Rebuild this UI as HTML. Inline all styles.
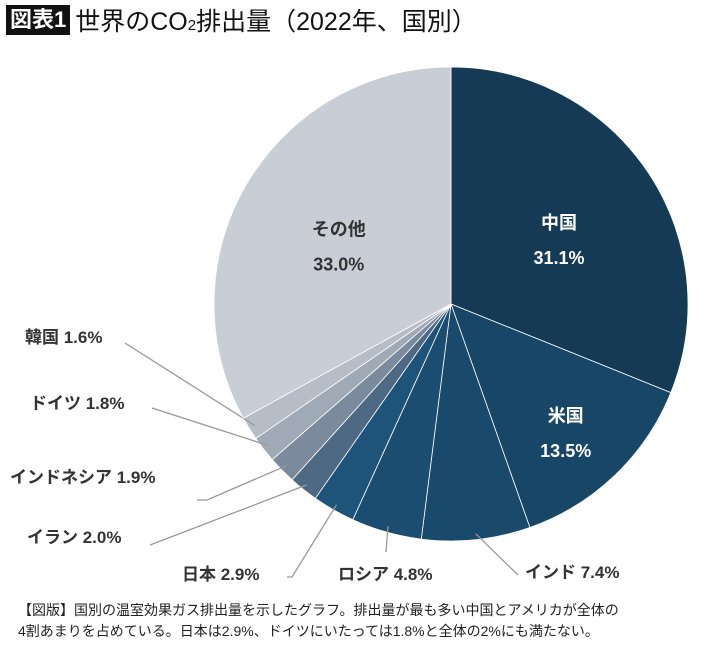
<!DOCTYPE html>
<html><head><meta charset="utf-8"><style>
body{margin:0;background:#fff;width:710px;height:651px;overflow:hidden;font-family:"Liberation Sans","Noto Sans CJK JP",sans-serif;}
#title{position:absolute;left:6px;top:4px;height:32px;display:flex;align-items:center;font-size:25px;color:#111;white-space:nowrap}
#badge{background:#111;color:#fff;font-weight:bold;font-size:22px;padding:0 4px;margin-right:5px;line-height:30px}
#caption{position:absolute;left:18px;top:600px;font-size:14px;line-height:21px;color:#222;white-space:nowrap}
.sub{font-size:15px;position:relative;top:5px}
</style></head><body>
<div id="title"><span id="badge">図表1</span>世界のCO<span class="sub">2</span>排出量（2022年、国別）</div>
<svg id="chart" width="710" height="651" style="position:absolute;left:0;top:0"></svg>
<div id="caption">【図版】国別の温室効果ガス排出量を示したグラフ。排出量が最も多い中国とアメリカが全体の<br>4割あまりを占めている。日本は2.9%、ドイツにいたっては1.8%と全体の2%にも満たない。</div>
<script>
const categories=["中国","米国","インド","ロシア","日本","イラン","インドネシア","ドイツ","韓国","その他"];
const values=[31.1,13.5,7.4,4.8,2.9,2.0,1.9,1.8,1.6,33.0];
const valueLabels=["31.1%","13.5%","7.4%","4.8%","2.9%","2.0%","1.9%","1.8%","1.6%","33.0%"];
const colors=["#143a55","#174667","#194a6b","#1a4d70","#1e5479","#4d6984","#7b8b9d","#a0a9b6","#b7bdc7","#c9cdd5"];
const svg=document.getElementById('chart');const NS="http://www.w3.org/2000/svg";
const cx=451,cy=304,R=237;
const total=values.reduce((a,b)=>a+b,0);
function ang(v){return v/total*Math.PI*2;}
function pt(a,r){return [cx+r*Math.sin(a),cy-r*Math.cos(a)];}
const innerR={0:0.55,1:0.70,9:0.55};
const outside={2:{x:525,y:578,lx:518,ly:575},3:{x:338,y:580,lx:386,ly:552},4:{x:182,y:580,lx:287,ly:577,hx:292},
5:{x:27,y:543,lx:150,ly:545},6:{x:10,y:483,lx:197,ly:500,hx:207},7:{x:30,y:409,lx:152,ly:408},8:{x:25,y:343,lx:125,ly:343}};
let a0=0;
values.forEach((v,i)=>{
 const a1=a0+ang(v);const p0=pt(a0,R),p1=pt(a1,R);const large=(a1-a0)>Math.PI?1:0;
 const p=document.createElementNS(NS,'path');
 p.setAttribute('d',`M${cx},${cy}L${p0[0]},${p0[1]}A${R},${R} 0 ${large} 1 ${p1[0]},${p1[1]}Z`);
 p.setAttribute('fill',colors[i]);p.setAttribute('stroke','#fff');p.setAttribute('stroke-width','0.8');
 
 
 svg.appendChild(p);
 const mid=(a0+a1)/2;
 if(outside[i]){
  const o=outside[i];const e=pt(mid,R-6);
  const l=document.createElementNS(NS,'polyline');
  l.setAttribute('points',`${e[0]},${e[1]} ${o.hx||o.lx},${o.ly} ${o.lx},${o.ly}`);
  l.setAttribute('fill','none');l.setAttribute('stroke','#999');l.setAttribute('stroke-width','1.3');
  
  
  svg.appendChild(l);
  const t=document.createElementNS(NS,'text');
  t.setAttribute('x',o.x);t.setAttribute('y',o.y);t.setAttribute('font-size','17');t.setAttribute('font-weight','bold');t.setAttribute('fill','#333');
  t.textContent=categories[i]+' '+valueLabels[i];
  
  
  svg.appendChild(t);
 }else{
  const c=pt(mid,R*(innerR[i]||0.6));
  const col=i===9?'#333':'#fff';
  [[categories[i],-2],[valueLabels[i],33]].forEach((s,k)=>{
   const t=document.createElementNS(NS,'text');
   t.setAttribute('x',c[0]);t.setAttribute('y',c[1]+s[1]);t.setAttribute('text-anchor','middle');
   t.setAttribute('font-size','18');t.setAttribute('font-weight','bold');t.setAttribute('fill',col);
   t.textContent=s[0];
   
   
   svg.appendChild(t);
  });
 }
 a0=a1;
});
</script>
</body></html>
